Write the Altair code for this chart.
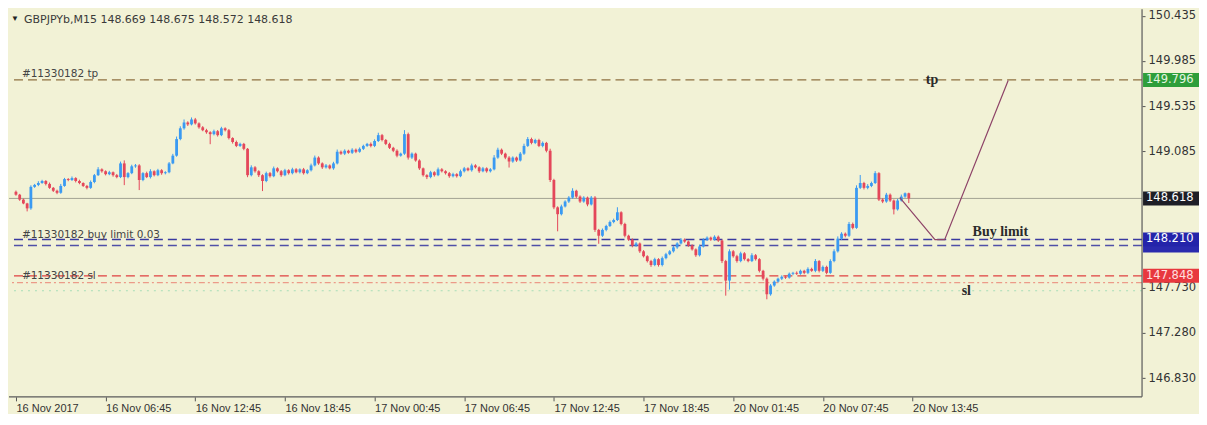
import altair as alt
import pandas as pd

# ---------------- data ----------------
symbol_header = "GBPJPYb,M15  148.669 148.675 148.572 148.618"

first_open = 148.684
close = [
    148.655, 148.606, 148.568, 148.519, 148.733, 148.752, 148.771, 148.791, 148.762, 148.723,
    148.694, 148.674, 148.742, 148.810, 148.801, 148.820, 148.791, 148.771, 148.742, 148.723,
    148.781, 148.849, 148.907, 148.888, 148.859, 148.878, 148.849, 148.830, 148.966, 148.830,
    148.869, 148.937, 148.946, 148.801, 148.869, 148.830, 148.888, 148.849, 148.898, 148.869,
    148.878, 148.966, 149.043, 149.208, 149.315, 149.373, 149.354, 149.403, 149.364, 149.325,
    149.296, 149.276, 149.257, 149.286, 149.247, 149.315, 149.296, 149.218, 149.179, 149.140,
    149.160, 149.111, 148.849, 148.927, 148.888, 148.849, 148.791, 148.869, 148.839, 148.917,
    148.888, 148.849, 148.898, 148.869, 148.907, 148.878, 148.907, 148.869, 148.898, 148.946,
    149.024, 148.966, 148.927, 148.946, 148.917, 148.966, 149.082, 149.063, 149.092, 149.072,
    149.102, 149.082, 149.111, 149.140, 149.160, 149.140, 149.189, 149.247, 149.199, 149.160,
    149.121, 149.092, 149.043, 149.063, 149.257, 149.024, 149.063, 148.995, 148.917, 148.849,
    148.830, 148.878, 148.849, 148.907, 148.888, 148.869, 148.839, 148.859, 148.839, 148.888,
    148.917, 148.898, 148.946, 148.927, 148.888, 148.917, 148.888, 148.907, 149.024, 149.102,
    149.063, 149.024, 148.985, 149.024, 148.995, 149.063, 149.140, 149.208, 149.170, 149.199,
    149.140, 149.170, 149.092, 148.801, 148.529, 148.461, 148.538, 148.587, 148.626, 148.694,
    148.636, 148.587, 148.626, 148.558, 148.626, 148.305, 148.247, 148.305, 148.344, 148.383,
    148.403, 148.480, 148.364, 148.247, 148.208, 148.150, 148.170, 148.092, 148.043, 147.995,
    147.956, 148.014, 147.956, 148.024, 148.063, 148.092, 148.131, 148.170, 148.208, 148.189,
    148.150, 148.111, 148.053, 148.140, 148.208, 148.228, 148.208, 148.237, 148.199, 147.995,
    147.801, 148.092, 148.043, 147.995, 148.072, 148.014, 147.995, 148.053, 148.014, 147.898,
    147.820, 147.665, 147.752, 147.791, 147.820, 147.839, 147.830, 147.869, 147.878, 147.869,
    147.898, 147.878, 147.917, 147.898, 147.995, 147.898, 147.937, 147.878, 147.995, 148.092,
    148.218, 148.267, 148.247, 148.364, 148.325, 148.723, 148.771, 148.723, 148.742, 148.771,
    148.869, 148.606, 148.587, 148.655, 148.597, 148.509, 148.597, 148.636, 148.669, 148.618,
]

# wick lengths above / below the candle body, in points (0.001)
upper_wick = [
    12, 8, 10, 6, 15, 10, 18, 12, 9, 14, 8, 11, 20, 12, 10, 16, 9, 13, 7, 10,
    15, 12, 22, 10, 9, 14, 8, 12, 18, 30, 10, 16, 14, 12, 10, 15, 20, 9, 14, 11,
    10, 14, 18, 25, 20, 30, 12, 20, 15, 10, 12, 14, 10, 16, 12, 15, 10, 12, 8, 14,
    12, 10, 8, 20, 12, 10, 9, 15, 12, 18, 10, 12, 14, 10, 16, 12, 10, 14, 10, 18,
    20, 12, 10, 14, 10, 16, 22, 12, 14, 10, 15, 12, 14, 12, 10, 14, 16, 24, 12, 10,
    12, 10, 14, 10, 40, 15, 12, 10, 12, 8, 10, 14, 10, 18, 12, 10, 12, 14, 10, 16,
    14, 10, 18, 12, 10, 14, 10, 12, 25, 20, 12, 10, 14, 12, 10, 16, 22, 20, 14, 12,
    12, 14, 10, 20, 12, 10, 18, 12, 15, 25, 10, 12, 14, 10, 16, 15, 10, 14, 12, 15,
    14, 50, 10, 12, 10, 12, 14, 10, 12, 10, 12, 14, 10, 16, 14, 12, 15, 12, 16, 12,
    10, 12, 10, 18, 14, 12, 10, 14, 12, 10, 12, 20, 12, 14, 16, 12, 10, 20, 12, 10,
    10, 12, 14, 12, 10, 14, 10, 12, 10, 14, 12, 10, 16, 12, 20, 10, 14, 12, 18, 20,
    22, 15, 12, 20, 14, 25, 80, 12, 18, 14, 20, 10, 14, 18, 12, 10, 16, 20, 8, 6,
]
lower_wick = [
    10, 12, 8, 30, 14, 10, 12, 8, 15, 10, 12, 14, 10, 8, 12, 10, 14, 12, 10, 15,
    10, 12, 8, 14, 12, 10, 15, 12, 10, 80, 12, 10, 14, 100, 12, 10, 14, 12, 10, 16,
    12, 10, 8, 10, 12, 14, 16, 10, 12, 14, 10, 15, 100, 12, 14, 10, 12, 14, 16, 12,
    10, 14, 20, 12, 14, 18, 100, 12, 14, 10, 12, 16, 10, 14, 12, 10, 12, 14, 10, 12,
    10, 14, 16, 12, 10, 14, 10, 12, 14, 10, 12, 14, 10, 12, 10, 14, 12, 10, 14, 12,
    12, 14, 16, 10, 12, 20, 14, 12, 16, 14, 20, 12, 14, 10, 12, 14, 16, 12, 14, 10,
    12, 10, 14, 12, 16, 10, 14, 12, 10, 12, 14, 16, 60, 12, 14, 10, 12, 10, 14, 12,
    12, 14, 16, 20, 18, 170, 12, 10, 14, 12, 16, 14, 12, 18, 10, 20, 80, 12, 14, 10,
    12, 10, 14, 16, 12, 18, 14, 16, 12, 14, 18, 12, 16, 14, 12, 10, 12, 14, 10, 12,
    14, 12, 16, 12, 10, 14, 12, 10, 14, 20, 150, 90, 14, 16, 12, 14, 12, 10, 14, 16,
    18, 50, 14, 12, 10, 14, 12, 10, 14, 12, 10, 14, 12, 10, 14, 16, 12, 14, 10, 12,
    12, 14, 16, 12, 14, 10, 12, 16, 14, 12, 10, 14, 16, 12, 14, 50, 12, 10, 12, 46,
]

x_labels = ["16 Nov 2017", "16 Nov 06:45", "16 Nov 12:45", "16 Nov 18:45",
            "17 Nov 00:45", "17 Nov 06:45", "17 Nov 12:45", "17 Nov 18:45",
            "20 Nov 01:45", "20 Nov 07:45", "20 Nov 13:45"]
y_ticks = [150.435, 149.985, 149.535, 149.085, 147.730, 147.280, 146.830]

tp_price = 149.796
bid_price = 148.618
buy_limit_price = 148.210
buy_limit_price2 = 148.150
sl_price = 147.848
sl_price2 = 147.781
ask_dotted_price = 147.700

plan_bar = [236.6, 246.0, 248.6, 265.6]
plan_price = [148.626, 148.208, 148.208, 149.791]

# ---------------- build table ----------------
open_ = [first_open] + close[:-1]
rows = []
for i, (o, c, u, l) in enumerate(zip(open_, close, upper_wick, lower_wick)):
    rows.append({
        "i": i, "open": o, "close": c,
        "high": round(max(o, c) + u / 1000, 3),
        "low": round(min(o, c) - l / 1000, 3),
        "dir": "up" if c >= o else "down",
    })
df = pd.DataFrame(rows)

W, H = 1134, 388
BG = "#F2F2D6"
BLUE = "#3A9AF2"
RED = "#E4475A"

x_scale = alt.Scale(domain=[-0.52, 300.1], nice=False, zero=False)
y_scale = alt.Scale(domain=[146.645, 150.4996], nice=False, zero=False)
col = alt.Color("dir:N", scale=alt.Scale(domain=["up", "down"], range=[BLUE, RED]), legend=None)

label_expr = "[" + ",".join("'%s'" % s for s in x_labels) + "][round(datum.value/24)]"

x_axis = alt.Axis(values=list(range(0, 241, 24)), labelExpr=label_expr, labelAlign="left",
                  labelFont="Liberation Sans", labelFontSize=11, labelColor="#333333",
                  tickColor="#555555", tickSize=4, domain=False, grid=False, title=None,
                  labelPadding=2, labelOverlap=False, labelFlush=False)
y_axis = alt.Axis(orient="right", values=y_ticks, format=".3f", labelFont="DejaVu Sans",
                  labelFontSize=11.5, labelColor="#333333", tickColor="#555555", tickSize=3,
                  domain=False, grid=False, title=None, labelPadding=3, labelOverlap=False,
                  labelFlush=False)

base = alt.Chart(df)
wicks = base.mark_rule(strokeWidth=1).encode(
    x=alt.X("i:Q", scale=x_scale, axis=x_axis),
    y=alt.Y("low:Q", scale=y_scale, axis=y_axis),
    y2="high:Q",
    color=col,
)
bodies = base.mark_bar(size=2.8).encode(x="i:Q", y="open:Q", y2="close:Q", color=col)

one = pd.DataFrame({"k": [0]})


def hline(price, color, dash=None, width=1.0):
    kw = dict(color=color, strokeWidth=width)
    if dash:
        kw["strokeDash"] = dash
    return alt.Chart(one).mark_rule(**kw).encode(y=alt.datum(price))


def label(text, xi, price, **kw):
    return alt.Chart(one).mark_text(text=text, **kw).encode(x=alt.datum(xi), y=alt.datum(price))


lines = [
    hline(bid_price, "#A3A394", None, 1),
    hline(tp_price, "#8E7040", [9, 5], 1.3),
    hline(buy_limit_price, "#3A3AA0", [9, 5], 1.5),
    hline(buy_limit_price2, "#5050A8", [9, 5], 1.5),
    hline(sl_price, "#E04040", [9, 5], 1.3),
    hline(sl_price2, "#EC9A88", [6, 3, 2, 3], 1.2),
    hline(ask_dotted_price, "#A8DDB8", [2, 5], 1.2),
]

plan_df = pd.DataFrame({"i": plan_bar, "p": plan_price, "k": list(range(len(plan_bar)))})
plan = alt.Chart(plan_df).mark_line(color="#8E4468", strokeWidth=1.2).encode(
    x="i:Q", y="p:Q", order="k:O")

small = dict(font="DejaVu Sans", fontSize=10.5, color="#444444", align="left")
texts = [
    label("#11330182 tp", 1.6, tp_price, baseline="bottom", dy=-1, **small),
    label("#11330182 buy limit 0.03", 1.6, buy_limit_price, baseline="bottom", dy=1, **small),
    label("#11330182 sl", 1.6, sl_price, baseline="middle", dy=0, **small),
    label("tp", 245.2, tp_price, font="Liberation Serif", fontSize=14, fontWeight="bold",
          color="#2A2A2A", align="center", baseline="middle"),
    label("Buy limit", 263.5, 148.286, font="Liberation Serif", fontSize=14, fontWeight="bold",
          color="#2A2A2A", align="center", baseline="middle"),
    label("sl", 254.4, 147.694, font="Liberation Serif", fontSize=14, fontWeight="bold",
          color="#2A2A2A", align="center", baseline="middle"),
]

header = [
    alt.Chart(one).mark_text(text="\u25BC", fontSize=8, color="#222222", align="center",
                             baseline="middle").encode(x=alt.value(6), y=alt.value(10)),
    alt.Chart(one).mark_text(text=symbol_header, font="DejaVu Sans", fontSize=11,
                             color="#3A3A3A", align="left", baseline="middle"
                             ).encode(x=alt.value(15), y=alt.value(11)),
]

borders = [
    alt.Chart(one).mark_rule(color="#5A5A5A", strokeWidth=1.2).encode(
        x=alt.value(W), y=alt.value(0), y2=alt.value(H)),
    alt.Chart(one).mark_rule(color="#5A5A5A", strokeWidth=1.2).encode(
        x=alt.value(0), x2=alt.value(W), y=alt.value(H)),
]

BOX = "M-1,-0.25L1,-0.25L1,0.25L-1,0.25Z"


def box(price, fill):
    return alt.Chart(one).mark_point(shape=BOX, size=3136, filled=True, opacity=1,
                                     color=fill, strokeWidth=0).encode(
        x=alt.value(W + 29), y=alt.datum(price))


def box_text(price, txt, txt_color="#FFFFFF"):
    return alt.Chart(one).mark_text(text=txt, font="DejaVu Sans", fontSize=11.5, color=txt_color,
                                    align="left", baseline="middle").encode(
        x=alt.value(W + 4), y=alt.datum(price))


boxes = [
    box(tp_price, "#2E9E3A"), box_text(tp_price, "149.796", "#E4F6E0"),
    box(bid_price, "#1E1E26"), box_text(bid_price, "148.618"),
    box(buy_limit_price2, "#2A2AAE"),
    box(buy_limit_price, "#2424AA"), box_text(buy_limit_price, "148.210"),
    box(sl_price, "#E8383E"), box_text(sl_price, "147.848", "#FFE0E0"),
]

chart = alt.layer(
    *lines, wicks, bodies, plan, *texts, *header, *borders, *boxes
).properties(
    width=W, height=H, padding=0, background=BG
).configure_view(strokeWidth=0, fill=BG)

chart.save("out.html", embed_options={"renderer": "svg", "actions": False})
